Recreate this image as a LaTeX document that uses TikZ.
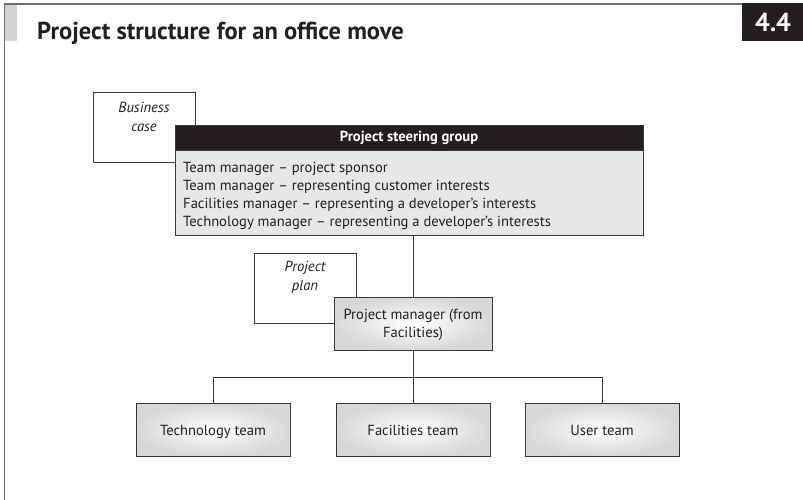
\documentclass[tikz,border=0pt]{standalone}
\usepackage{fontspec}
\setmainfont{PT Sans}
\usetikzlibrary{shadows}
\definecolor{ink}{HTML}{231F20}
\definecolor{panel}{HTML}{E6E7E8}
\definecolor{framegray}{HTML}{6D6E71}
\definecolor{bargray}{HTML}{D1D3D4}
\begin{document}
\begin{tikzpicture}[x=1pt,y=-1pt,
  box/.style={draw=ink!90, line width=0.75pt, inner sep=0pt, outer sep=0pt},
  docbox/.style={box, fill=white},
  shade/.style={drop shadow={shadow xshift=0.8pt, shadow yshift=-0.9pt, fill=ink!70, opacity=1}},
  gradbox/.style={box, shade, inner color=white, outer color=panel!85!gray},
  bodytext/.style={font=\fontsize{14.6}{17.5}\selectfont, text=ink, inner sep=0pt},
  doctext/.style={font=\fontsize{14.6}{19}\selectfont\itshape, text=ink, align=center, inner sep=0pt},
  conn/.style={draw=ink!90, line width=0.75pt}
]
\useasboundingbox (0,0) rectangle (803,500);
% frame
\fill[bargray] (4,4) rectangle (17,41);
\draw[framegray, line width=1.4pt] (742,4) -- (4,4);
\draw[framegray, line width=1pt] (4,4) -- (4,500);
\node[fill=ink, minimum width=61pt, minimum height=38pt, inner sep=0pt, anchor=north west] (numbox) at (742,3) {};
\node[text=white, font=\fontsize{26}{26}\selectfont\bfseries, inner sep=0pt] (num) at (773,22) {4.4};
\node[anchor=base west, inner sep=0pt, text=ink, font=\fontsize{24.5}{26}\selectfont\bfseries] (title) at (37,40) {Project structure for an office move};

% business case
\node[docbox, minimum width=102pt, minimum height=70pt] (bc) at (144,127) {};
\node[doctext] (bct) at (144,116.5) {Business\\case};

% steering group
\node[box, fill=ink, minimum width=468pt, minimum height=25pt] (sgh) at (409,137.5) {};
\node[text=white, font=\fontsize{14.6}{17}\selectfont\bfseries, inner sep=0pt] (sgt) at (409,137.5) {Project steering group};
\node[box, shade, fill=panel, minimum width=468pt, minimum height=85pt] (sgb) at (409,192.5) {};
\node[bodytext, anchor=base west] (m1) at (183,172.5) {Team manager – project sponsor};
\node[bodytext, anchor=base west] (m2) at (183,190.4) {Team manager – representing customer interests};
\node[bodytext, anchor=base west] (m3) at (183,208.3) {Facilities manager – representing a developer’s interests};
\node[bodytext, anchor=base west] (m4) at (183,226.2) {Technology manager – representing a developer’s interests};

% project plan
\node[docbox, minimum width=102pt, minimum height=70pt] (pp) at (305,288) {};
\node[doctext] (ppt) at (305,277.5) {Project\\plan};

% project manager
\node[gradbox, minimum width=158pt, minimum height=53pt] (pm) at (413,323.5) {};
\node[bodytext, align=center] (pmt) at (413,325) {Project manager (from\\Facilities)};

% teams
\node[gradbox, minimum width=154pt, minimum height=53pt] (tt) at (213,429.5) {};
\node[bodytext, anchor=base] (ttt) at (213,435) {Technology team};
\node[gradbox, minimum width=154pt, minimum height=53pt] (ft) at (413,429.5) {};
\node[bodytext, anchor=base] (ftt) at (413,435) {Facilities team};
\node[gradbox, minimum width=154pt, minimum height=53pt] (ut) at (602,429.5) {};
\node[bodytext, anchor=base] (utt) at (602,435) {User team};

% connectors
\draw[conn] (pm.north) -- (pm.north |- sgb.south);
\draw[conn] (pm.south) -- (ft.north);
\draw[conn] (tt.north) -- ++(0,-26) -| (ut.north);
\end{tikzpicture}
\end{document}
